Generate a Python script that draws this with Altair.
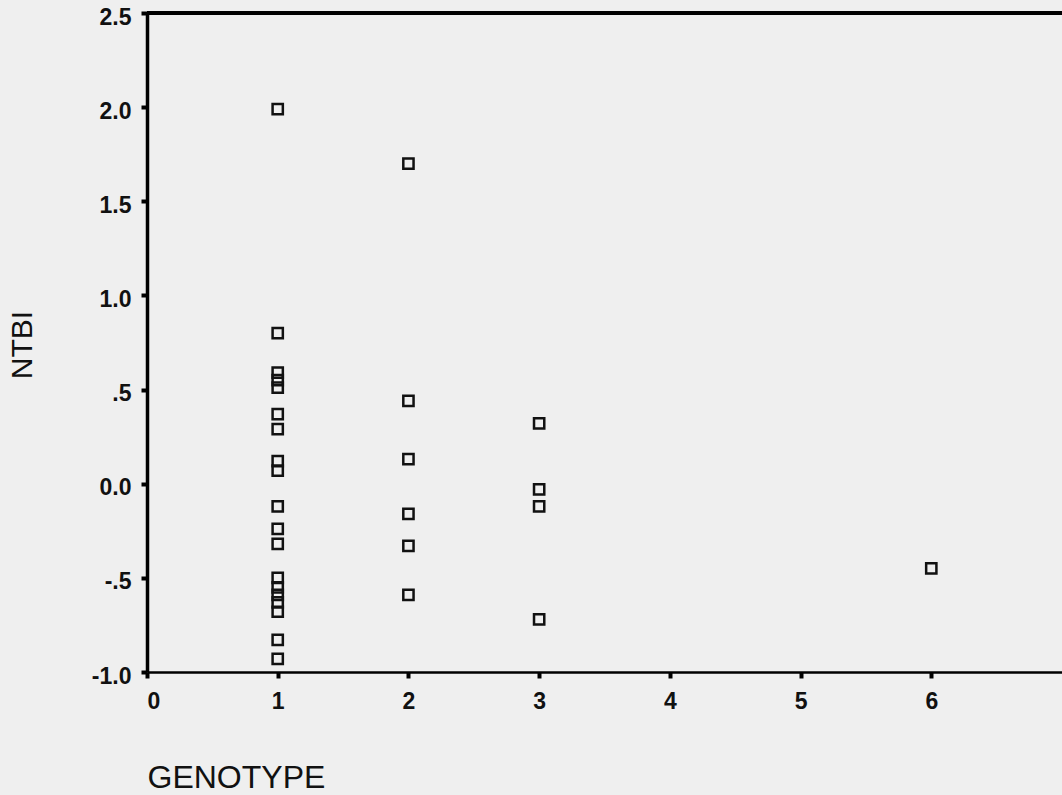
import altair as alt
import pandas as pd

genotype = [1]*19 + [2]*6 + [3]*4 + [6]
ntbi = [
    1.99, 0.80, 0.59, 0.55, 0.51, 0.37, 0.29, 0.12, 0.07, -0.12, -0.24, -0.32,
    -0.50, -0.55, -0.59, -0.63, -0.68, -0.83, -0.93,
    1.70, 0.44, 0.13, -0.16, -0.33, -0.59,
    0.32, -0.03, -0.12, -0.72,
    -0.45,
]

y_ticks = [-1.0, -0.5, 0.0, 0.5, 1.0, 1.5, 2.0, 2.5]
y_tick_labels = ["-1.0", "-.5", "0.0", ".5", "1.0", "1.5", "2.0", "2.5"]
x_ticks = [0, 1, 2, 3, 4, 5, 6]

df = pd.DataFrame({"GENOTYPE": genotype, "NTBI": ntbi})

label_expr = " : ".join(
    f"datum.value == {v} ? '{l}'" for v, l in zip(y_ticks[1:], y_tick_labels[1:])
) + f" : '{y_tick_labels[0]}'"

W, H = 915, 659

points = alt.Chart(df).mark_point(
    shape="square", filled=False, size=105, stroke="#111111", strokeWidth=2.5, opacity=1
).encode(
    x=alt.X("GENOTYPE:Q", scale=alt.Scale(domain=[0, 7], nice=False, zero=False),
            axis=alt.Axis(values=x_ticks, title="GENOTYPE", grid=False,
                          domainColor="#000000", domainWidth=2.5,
                          tickColor="#000000", tickWidth=4, tickSize=6,
                          labelFont="Liberation Sans", labelFontSize=23, labelFontWeight="bold",
                          labelColor="#111111", labelPadding=12,
                          titleFont="Liberation Sans", titleFontSize=32, titleFontWeight="normal",
                          titleColor="#111111", titleX=0, titleY=115, titleAlign="left",
                          titleBaseline="alphabetic", titleAnchor="start")),
    y=alt.Y("NTBI:Q", scale=alt.Scale(domain=[-1.0, 2.5], nice=False, zero=False),
            axis=alt.Axis(values=y_ticks, labelExpr=label_expr, title="NTBI", grid=False,
                          domainColor="#000000", domainWidth=3.5,
                          tickColor="#000000", tickWidth=4, tickSize=6,
                          labelFont="Liberation Sans", labelFontSize=23, labelFontWeight="bold",
                          labelColor="#111111", labelPadding=10, labelOffset=4,
                          titleFont="Liberation Sans", titleFontSize=30, titleFontWeight="normal",
                          titleColor="#111111", titleX=-125, titleY=H/2 + 2, titleAngle=270,
                          titleAlign="center", titleBaseline="middle")),
)

top_line = alt.Chart(df).mark_rule(color="#000000", strokeWidth=2.5).encode(
    x=alt.value(0), x2=alt.value(W), y=alt.value(0)
)

chart = alt.layer(points, top_line).properties(
    width=W, height=H,
    autosize=alt.AutoSizeParams(type="none"),
    padding={"left": 147, "top": 13, "right": 0, "bottom": 123},
    background="#efefef",
).configure_view(stroke=None)

chart.save("out.html", embed_options={"renderer": "svg", "actions": False})
